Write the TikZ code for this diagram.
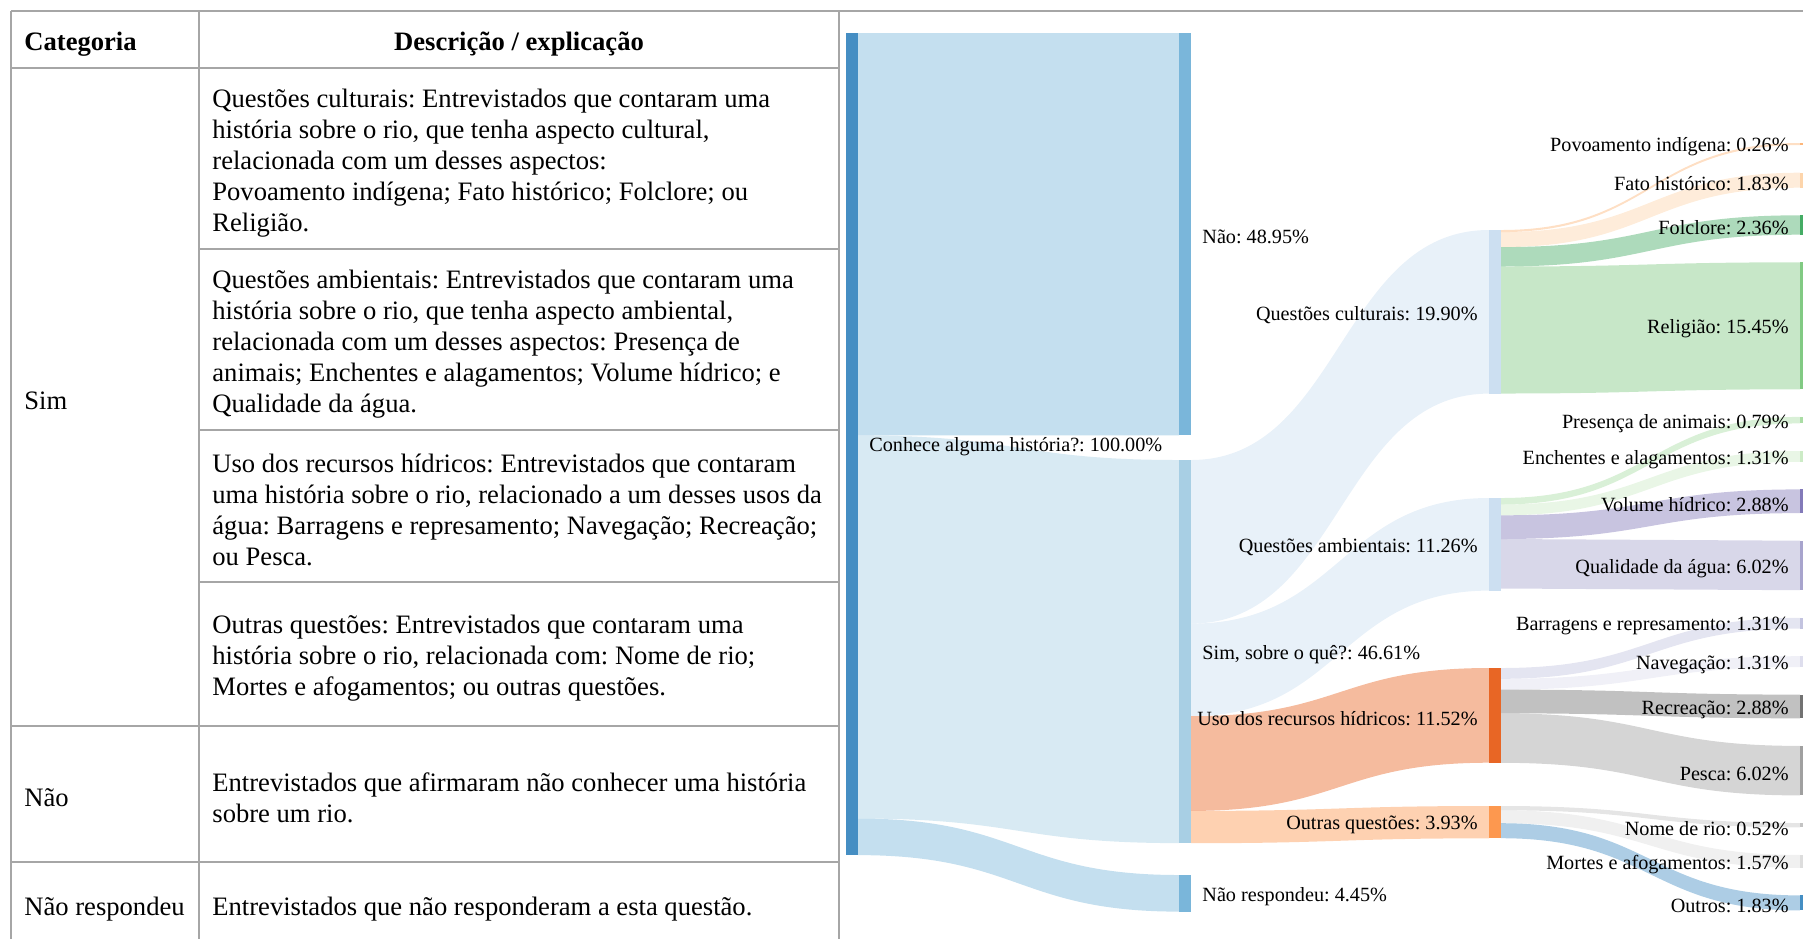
\documentclass[tikz,border=0pt]{standalone}
\usepackage{fontspec}
\setmainfont{Liberation Serif}
\usetikzlibrary{positioning, calc}
\frenchspacing

\definecolor{cBlueA}{HTML}{3182BD}
\definecolor{cBlueB}{HTML}{6BAED6}
\definecolor{cBlueC}{HTML}{9ECAE1}
\definecolor{cBlueD}{HTML}{C6DBEF}
\definecolor{cOrangeA}{HTML}{E6550D}
\definecolor{cOrangeB}{HTML}{FD8D3C}
\definecolor{cOrangeC}{HTML}{FDAE6B}
\definecolor{cOrangeD}{HTML}{FDD0A2}
\definecolor{cGreenA}{HTML}{31A354}
\definecolor{cGreenB}{HTML}{74C476}
\definecolor{cGreenC}{HTML}{A1D99B}
\definecolor{cGreenD}{HTML}{C7E9C0}
\definecolor{cPurpleA}{HTML}{756BB1}
\definecolor{cPurpleB}{HTML}{9E9AC8}
\definecolor{cPurpleC}{HTML}{BCBDDC}
\definecolor{cPurpleD}{HTML}{DADAEB}
\definecolor{cGrayA}{HTML}{636363}
\definecolor{cGrayB}{HTML}{969696}
\definecolor{cGrayC}{HTML}{BDBDBD}
\definecolor{cGrayD}{HTML}{D9D9D9}
\definecolor{tablegray}{HTML}{A6A6A6}

\tikzstyle{rule}=[draw=tablegray, line width=0.8pt]
\tikzstyle{celltext}=[anchor=west, align=left, inner sep=0pt, yshift=-2pt,
font=\fontsize{13.3}{15.5}\selectfont]
\tikzstyle{barlabel}=[inner sep=0pt, yshift=-1.5pt, font=\fontsize{10.1}{11}\selectfont]
\tikzset{bar/.style={rectangle, inner sep=0pt, outer sep=0pt, minimum width=6pt,
  anchor=north west, fill opacity=0.9, minimum height=#1*0.5pt},
  flow/.style={fill=#1, fill opacity=0.4}}

% band: from node, offset, to node, offset, thickness, colour
\newcommand{\band}[6]{%
  \path[flow=#6] let \p1=($(#1.north east)+(0,#2)$), \p2=($(#3.north west)+(0,#4)$),
    \n1={(\x1+\x2)/2}, \n2={#5*0.5pt} in
    (\p1) .. controls (\n1,\y1) and (\n1,\y2) .. (\p2)
    -- (\x2,\y2-\n2) .. controls (\n1,\y2-\n2) and (\n1,\y1-\n2) .. (\x1,\y1-\n2) -- cycle;}

\begin{document}
\begin{tikzpicture}[x=0.5pt, y=-0.5pt]
    \useasboundingbox (0,0) rectangle (1803,939);

    % table
    \draw[rule] (11,11) -- (1803,11);
    \draw[rule] (11,11) -- (11,939);
    \draw[rule] (199,11) -- (199,939);
    \draw[rule] (839,11) -- (839,939);
    \draw[rule] (11,68) -- (839,68);
    \draw[rule] (199,249) -- (839,249);
    \draw[rule] (199,430) -- (839,430);
    \draw[rule] (199,582) -- (839,582);
    \draw[rule] (11,726) -- (839,726);
    \draw[rule] (11,862) -- (839,862);

    \node[celltext] (hcat) at (24,40) {\bfseries Categoria};
    \node[celltext, anchor=center] (hdesc) at (519,40) {\bfseries Descrição / explicação};
    \node[celltext] (csim) at (24,397) {Sim};
    \node[celltext] (cnao) at (24,794) {Não};
    \node[celltext] (cnr) at (24,905) {Não respondeu};
    \node[celltext] (dcult) at (212,159) {Questões culturais: Entrevistados que contaram uma\\
      história sobre o rio, que tenha aspecto cultural,\\
      relacionada com um desses aspectos:\\
      Povoamento indígena; Fato histórico; Folclore; ou\\
      Religião.};
    \node[celltext] (damb) at (212,340) {Questões ambientais: Entrevistados que contaram uma\\
      história sobre o rio, que tenha aspecto ambiental,\\
      relacionada com um desses aspectos: Presença de\\
      animais; Enchentes e alagamentos; Volume hídrico; e\\
      Qualidade da água.};
    \node[celltext] (duso) at (212,506) {Uso dos recursos hídricos: Entrevistados que contaram\\
      uma história sobre o rio, relacionado a um desses usos da\\
      água: Barragens e represamento; Navegação; Recreação;\\
      ou Pesca.};
    \node[celltext] (doutq) at (212,654) {Outras questões: Entrevistados que contaram uma\\
      história sobre o rio, relacionada com: Nome de rio;\\
      Mortes e afogamentos; ou outras questões.};
    \node[celltext] (dnao) at (212,794) {Entrevistados que afirmaram não conhecer uma história\\
      sobre um rio.};
    \node[celltext] (dnr) at (212,905) {Entrevistados que não responderam a esta questão.};

    % sankey bars
    \node[bar=822, fill=cBlueA] (src) at (846,33) {};
    \node[bar=402.4, fill=cBlueB] (nao) at (1179,33) {};
    \node[bar=383.1, fill=cBlueC] (sim) at (1179,460) {};
    \node[bar=36.6, fill=cBlueB] (nresp) at (1179,875) {};
    \node[bar=163.6, fill=cBlueD] (cult) at (1489,230) {};
    \node[bar=92.6, fill=cBlueD] (amb) at (1489,498) {};
    \node[bar=94.7, fill=cOrangeA] (uso) at (1489,668) {};
    \node[bar=32.3, fill=cOrangeB] (outq) at (1489,806) {};
    \node[bar=2.1, fill=cOrangeC] (povo) at (1800,143) {};
    \node[bar=15.0, fill=cOrangeD] (fato) at (1800,172.7) {};
    \node[bar=19.4, fill=cGreenA] (folc) at (1800,215.3) {};
    \node[bar=127.0, fill=cGreenB] (reli) at (1800,262.3) {};
    \node[bar=6.5, fill=cGreenC] (pres) at (1800,416.9) {};
    \node[bar=10.8, fill=cGreenD] (ench) at (1800,451.0) {};
    \node[bar=23.7, fill=cPurpleA] (volu) at (1800,489.4) {};
    \node[bar=49.5, fill=cPurpleB] (qual) at (1800,540.7) {};
    \node[bar=10.8, fill=cPurpleC] (barr) at (1800,617.8) {};
    \node[bar=10.8, fill=cPurpleD] (nave) at (1800,656.2) {};
    \node[bar=23.7, fill=cGrayA] (recr) at (1800,694.6) {};
    \node[bar=49.5, fill=cGrayB] (pesc) at (1800,745.9) {};
    \node[bar=4.3, fill=cGrayC] (nome) at (1800,823.0) {};
    \node[bar=12.9, fill=cGrayD] (mort) at (1800,854.9) {};
    \node[bar=15.0, fill=cBlueA] (outr) at (1800,895.4) {};

    % sankey flows
    \band{src}{0}{nao}{0}{402.4}{cBlueB}
    \band{src}{402.4}{sim}{0}{383.1}{cBlueC}
    \band{src}{785.5}{nresp}{0}{36.6}{cBlueB}
    \band{sim}{0}{cult}{0}{163.6}{cBlueD}
    \band{sim}{163.6}{amb}{0}{92.6}{cBlueD}
    \band{sim}{256.2}{uso}{0}{94.7}{cOrangeA}
    \band{sim}{350.9}{outq}{0}{32.3}{cOrangeB}
    \band{cult}{0}{povo}{0}{2.1}{cOrangeC}
    \band{cult}{2.1}{fato}{0}{15.0}{cOrangeD}
    \band{cult}{17.1}{folc}{0}{19.4}{cGreenA}
    \band{cult}{36.5}{reli}{0}{127.0}{cGreenB}
    \band{amb}{0}{pres}{0}{6.5}{cGreenC}
    \band{amb}{6.5}{ench}{0}{10.8}{cGreenD}
    \band{amb}{17.3}{volu}{0}{23.7}{cPurpleA}
    \band{amb}{41.0}{qual}{0}{49.5}{cPurpleB}
    \band{uso}{0}{barr}{0}{10.8}{cPurpleC}
    \band{uso}{10.8}{nave}{0}{10.8}{cPurpleD}
    \band{uso}{21.6}{recr}{0}{23.7}{cGrayA}
    \band{uso}{45.3}{pesc}{0}{49.5}{cGrayB}
    \band{outq}{0}{nome}{0}{4.3}{cGrayC}
    \band{outq}{4.3}{mort}{0}{12.9}{cGrayD}
    \band{outq}{17.2}{outr}{0}{15.0}{cBlueA}

    % sankey labels
    \node[barlabel, right=5.5pt of src] (lsrc) {Conhece alguma história?: 100.00\%};
    \node[barlabel, right=5.5pt of nao] (lnao) {Não: 48.95\%};
    \node[barlabel, right=5.5pt of sim] (lsim) {Sim, sobre o quê?: 46.61\%};
    \node[barlabel, right=5.5pt of nresp] (lnresp) {Não respondeu: 4.45\%};
    \node[barlabel, left=5.5pt of cult] (lcult) {Questões culturais: 19.90\%};
    \node[barlabel, left=5.5pt of amb] (lamb) {Questões ambientais: 11.26\%};
    \node[barlabel, left=5.5pt of uso] (luso) {Uso dos recursos hídricos: 11.52\%};
    \node[barlabel, left=5.5pt of outq] (loutq) {Outras questões: 3.93\%};
    \node[barlabel, left=5.5pt of povo] (lpovo) {Povoamento indígena: 0.26\%};
    \node[barlabel, left=5.5pt of fato] (lfato) {Fato histórico: 1.83\%};
    \node[barlabel, left=5.5pt of folc] (lfolc) {Folclore: 2.36\%};
    \node[barlabel, left=5.5pt of reli] (lreli) {Religião: 15.45\%};
    \node[barlabel, left=5.5pt of pres] (lpres) {Presença de animais: 0.79\%};
    \node[barlabel, left=5.5pt of ench] (lench) {Enchentes e alagamentos: 1.31\%};
    \node[barlabel, left=5.5pt of volu] (lvolu) {Volume hídrico: 2.88\%};
    \node[barlabel, left=5.5pt of qual] (lqual) {Qualidade da água: 6.02\%};
    \node[barlabel, left=5.5pt of barr] (lbarr) {Barragens e represamento: 1.31\%};
    \node[barlabel, left=5.5pt of nave] (lnave) {Navegação: 1.31\%};
    \node[barlabel, left=5.5pt of recr] (lrecr) {Recreação: 2.88\%};
    \node[barlabel, left=5.5pt of pesc] (lpesc) {Pesca: 6.02\%};
    \node[barlabel, left=5.5pt of nome] (lnome) {Nome de rio: 0.52\%};
    \node[barlabel, left=5.5pt of mort] (lmort) {Mortes e afogamentos: 1.57\%};
    \node[barlabel, left=5.5pt of outr] (loutr) {Outros: 1.83\%};
\end{tikzpicture}
\end{document}
